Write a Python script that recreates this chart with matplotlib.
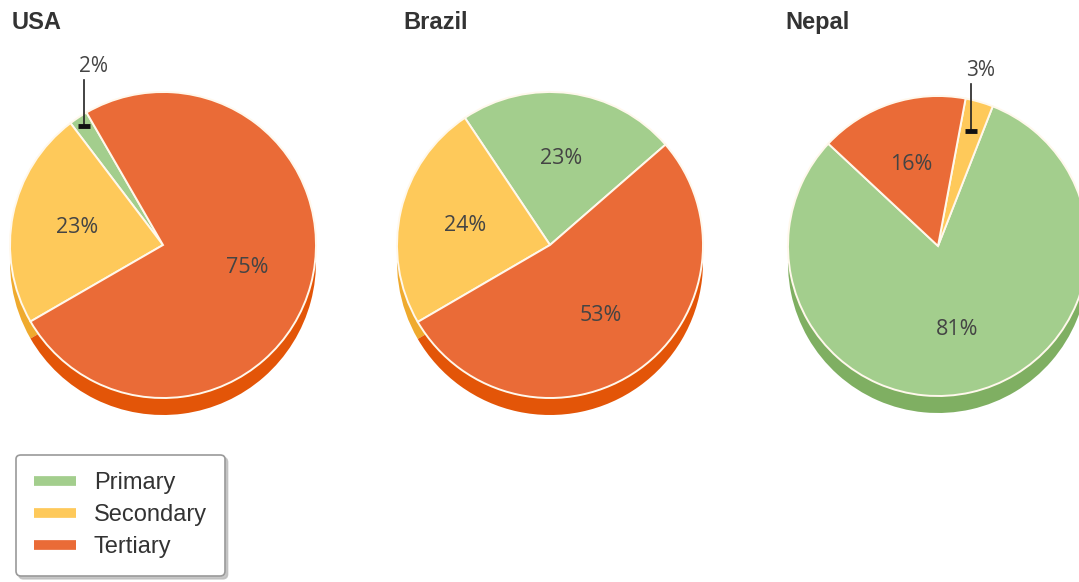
#!/usr/bin/env python3
"""Employment by sector - three pie charts (USA, Brazil, Nepal)"""

import numpy as np
import matplotlib
matplotlib.use('Agg')
import matplotlib.pyplot as plt
from matplotlib.lines import Line2D

countries = ['USA', 'Brazil', 'Nepal']
sectors = ['Primary', 'Secondary', 'Tertiary']
usa_values = [2, 23, 75]
brazil_values = [23, 24, 53]
nepal_values = [81, 3, 16]
start_angles = [120, 41, 137]

TOP_COLORS = ['#A3CE8D', '#FEC95A', '#EA6B37']
BASE_COLORS = ['#7FAF62', '#EFAA2E', '#E35508']
TEXT = '#444444'

W, H = 1079, 582
CENTERS = [(163, 337), (550, 337), (938, 336)]
RADII = [153, 153, 150]
TITLE_X = [12, 403, 785]
LEADER_R = [0.93, 0.93, 0.8]
DEPTH = 17


def pct_label(p):
    return f'{p:.0f}%' if p >= 5 else ''


def draw_pie(ax, values, center, radius, start, leader_r):
    cx, cy = center
    # darker base underneath for the 3D look
    ax.pie(values, colors=BASE_COLORS, startangle=start, radius=radius,
           center=(cx, cy - DEPTH), counterclock=True,
           wedgeprops=dict(linewidth=0), frame=True)
    wedges, _, _ = ax.pie(values, colors=TOP_COLORS, startangle=start, radius=radius,
                          center=(cx, cy), counterclock=True, autopct=pct_label,
                          pctdistance=0.57,
                          wedgeprops=dict(edgecolor='#FFF8EC', linewidth=1.4),
                          textprops=dict(color=TEXT, fontsize=15.5, family='Open Sans'),
                          frame=True)
    for w, v in zip(wedges, values):
        if v >= 5:
            continue
        mid = np.deg2rad((w.theta1 + w.theta2) / 2)
        px = cx + leader_r * radius * np.cos(mid)
        py = cy + leader_r * radius * np.sin(mid)
        ytop = cy + 1.08 * radius
        ax.plot([px, px], [py, ytop], color='#222222', linewidth=1.2)
        ax.plot([px], [py], marker='_', markersize=8, markeredgewidth=3.5,
                color='#111111')
        ax.text(px + 9, ytop + 3, f'{v}%', ha='center', va='bottom',
                color=TEXT, fontsize=15, family='Open Sans')


def main():
    fig = plt.figure(figsize=(W / 100, H / 100), dpi=100)
    fig.patch.set_facecolor('white')
    ax = fig.add_axes([0, 0, 1, 1])
    all_values = [usa_values, brazil_values, nepal_values]
    for name, values, center, radius, start, lr, tx in zip(countries, all_values, CENTERS,
                                                          RADII, start_angles, LEADER_R, TITLE_X):
        draw_pie(ax, values, center, radius, start, lr)
        ax.text(tx, H - 29, name, ha='left', va='baseline', fontsize=17,
                fontweight='bold', color='#333333', family='Liberation Sans')
    ax.set_xlim(0, W)
    ax.set_ylim(0, H)
    ax.set_aspect('equal')
    ax.axis('off')

    handles = [Line2D([0], [0], color=c, linewidth=7, solid_capstyle='butt')
               for c in TOP_COLORS]
    leg = fig.legend(handles, sectors, loc='lower left',
                     bbox_to_anchor=(16 / W, 6 / H), borderaxespad=0,
                     frameon=True, fancybox=True,
                     shadow=dict(color='#BBBBBB', alpha=0.8), handlelength=1.8,
                     handletextpad=0.75, borderpad=0.75, labelspacing=0.42,
                     prop=dict(family='Liberation Sans', size=17))
    leg.get_frame().set_edgecolor('#9A9A9A')
    leg.get_frame().set_linewidth(1.2)
    for t in leg.get_texts():
        t.set_color('#333333')

    plt.savefig('out.png', dpi=100, facecolor='white')
    plt.close()


if __name__ == '__main__':
    main()
